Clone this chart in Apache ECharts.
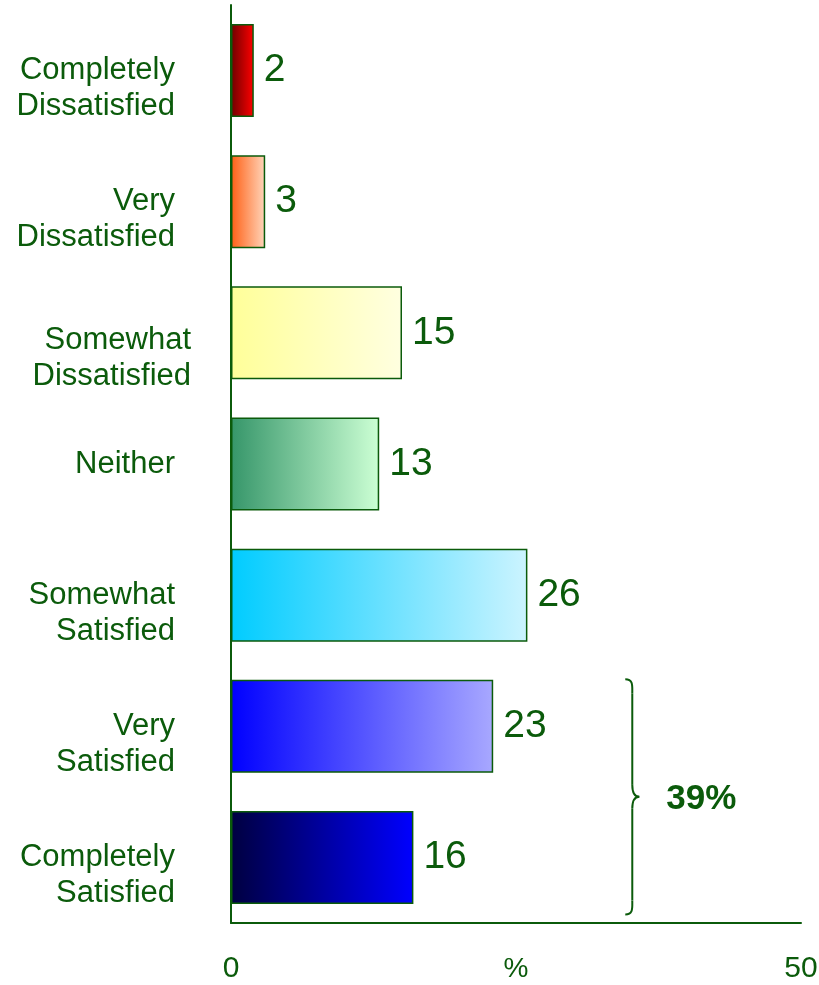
<!DOCTYPE html>
<html>
<head>
<meta charset="utf-8">
<script src="https://cdn.jsdelivr.net/npm/echarts@6/dist/echarts.min.js"></script>
<style>
  html, body { margin: 0; padding: 0; background: #fff; }
  #chart { width: 819px; height: 985px; }
</style>
</head>
<body>
<div id="chart"></div>
<script>
// data
const categories = [
  "Completely\nDissatisfied",
  "Very\nDissatisfied",
  "Somewhat\nDissatisfied",
  "Neither",
  "Somewhat\nSatisfied",
  "Very\nSatisfied",
  "Completely\nSatisfied",
];
const values = [2, 3, 15, 13, 26, 23, 16];
const xTicks = [0, 50];
const bracketLabel = "39%";

// gradient stops per bar (left -> right)
const barColors = [
  ["#6e0000", "#ff0000"],
  ["#ff5f14", "#ffd6bc"],
  ["#ffff99", "#ffffe0"],
  ["#36966a", "#ccffd4"],
  ["#00ccff", "#ccf4ff"],
  ["#0000ff", "#a8a8ff"],
  ["#000040", "#0000ff"],
];

const green = "#0b5b0b";
const font = "'Liberation Sans', Arial, sans-serif";
const chart = echarts.init(document.getElementById("chart"));

// the "Somewhat Dissatisfied" label sits a bit further right in the original
const yData = categories.map((c, i) => ({
  value: c,
  textStyle: { padding: [0, i === 2 ? 0 : 16, 0, 0] },
}));

const option = {
  animation: false,
  grid: { left: 231, right: 18, top: 5, bottom: 62, outerBoundsMode: "none" },
  xAxis: {
    type: "value",
    min: xTicks[0],
    max: xTicks[1],
    interval: 50,
    name: "%",
    nameLocation: "middle",
    nameGap: 32,
    nameMoveOverlap: false,
    nameTextStyle: { color: green, fontSize: 28, fontFamily: font, verticalAlign: "top" },
    axisLine: { show: true, lineStyle: { color: green, width: 2 } },
    axisTick: { show: false },
    splitLine: { show: false },
    axisLabel: { color: green, fontSize: 30, margin: 31, fontFamily: font },
  },
  yAxis: {
    type: "category",
    inverse: true,
    data: yData,
    axisLine: { show: true, lineStyle: { color: green, width: 2 } },
    axisTick: { show: false },
    axisLabel: {
      color: green,
      fontSize: 31,
      lineHeight: 36,
      margin: 40,
      align: "right",
      fontFamily: font,
      // first line level with the bar centre, second line below it
      formatter: (v, i) => {
        if (v.indexOf("\n") < 0) return "{t|" + v + "}";
        const gap = i === 2 ? "{g2| }" : "{g| }";
        return gap + "\n" + v.split("\n").map((s) => "{t|" + s + "}").join("\n");
      },
      rich: {
        t: { color: green, fontSize: 31, lineHeight: 36, fontFamily: font },
        g: { fontSize: 10, lineHeight: 36 },
        g2: { fontSize: 10, lineHeight: 52 },
      },
    },
  },
  series: [
    {
      type: "bar",
      barWidth: 93,
      data: values.map((v, i) => ({
        value: v,
        itemStyle: {
          color: new echarts.graphic.LinearGradient(0, 0, 1, 0, [
            { offset: 0, color: barColors[i][0] },
            { offset: 1, color: barColors[i][1] },
          ]),
          borderColor: green,
          borderWidth: 1.5,
        },
      })),
      label: {
        show: true,
        position: "right",
        distance: 10,
        color: green,
        fontSize: 39,
        fontFamily: font,
      },
    },
  ],
};

chart.setOption(option);

// curly brace grouping the last two categories
const yTop = chart.convertToPixel({ yAxisIndex: 0 }, 5) - 47;
const yBot = chart.convertToPixel({ yAxisIndex: 0 }, 6) + 57;
const yMid = (yTop + yBot) / 2;
const bx = chart.convertToPixel({ xAxisIndex: 0 }, 35.2);
const braceStyle = { fill: null, stroke: green, lineWidth: 2 };
const curve = (x1, y1, cx1, cy1, cx2, cy2, x2, y2) => ({
  type: "bezierCurve",
  shape: { x1, y1, cpx1: cx1, cpy1: cy1, cpx2: cx2, cpy2: cy2, x2, y2 },
  style: braceStyle,
});
const seg = (x1, y1, x2, y2) => ({ type: "line", shape: { x1, y1, x2, y2 }, style: braceStyle });

chart.setOption({
  graphic: [
    curve(bx - 7, yTop, bx + 1, yTop, bx, yTop + 6, bx, yTop + 14),
    seg(bx, yTop + 14, bx, yMid - 12),
    curve(bx, yMid - 12, bx, yMid - 4, bx + 2, yMid, bx + 7, yMid),
    curve(bx + 7, yMid, bx + 2, yMid, bx, yMid + 4, bx, yMid + 12),
    seg(bx, yMid + 12, bx, yBot - 14),
    curve(bx, yBot - 14, bx, yBot - 6, bx + 1, yBot, bx - 7, yBot),
    {
      type: "text",
      x: bx + 34,
      y: yMid + 2,
      style: {
        text: bracketLabel,
        fill: green,
        font: "bold 35px " + font,
        verticalAlign: "middle",
      },
    },
  ],
});
</script>
</body>
</html>
